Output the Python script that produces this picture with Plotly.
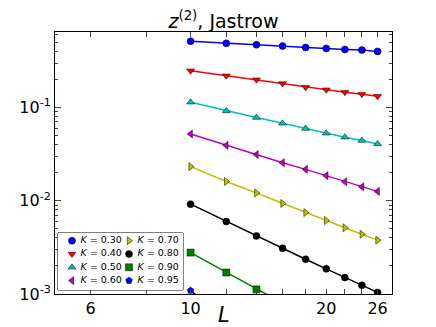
# %% Data
import plotly.graph_objects as go

L = [10, 12, 14, 16, 18, 20, 22, 24, 26]

K_labels = ["0.30", "0.40", "0.50", "0.60", "0.70", "0.80", "0.90", "0.95"]

z_030 = [0.513, 0.488, 0.472, 0.456, 0.441, 0.430, 0.420, 0.413, 0.400]
z_040 = [0.248, 0.219, 0.199, 0.181, 0.165, 0.155, 0.146, 0.139, 0.132]
z_050 = [0.114, 0.092, 0.078, 0.0677, 0.0594, 0.053, 0.048, 0.0442, 0.0407]
z_060 = [0.0521, 0.0393, 0.0313, 0.0256, 0.0217, 0.0186, 0.0160, 0.0141, 0.0126]
z_070 = [0.0232, 0.0161, 0.0121, 0.00936, 0.00748, 0.00614, 0.00513, 0.00438, 0.00378]
z_080 = [0.0092, 0.0060, 0.0042, 0.0031, 0.00236, 0.00186, 0.00150, 0.00124, 0.00104]
z_090 = [0.00278, 0.00170, 0.00112, 0.00078, 0.00057, 0.00044, 0.00034, 0.00027, 0.00022]
z_095 = [0.00109, 0.00054, 0.00029, 0.00017, 0.00011, 0.00007, 0.00005, 0.00003, 0.00002]

series = [z_030, z_040, z_050, z_060, z_070, z_080, z_090, z_095]

x_tickvals = [6, 8, 10, 12, 14, 16, 18, 20, 22, 24, 26]
x_ticktext = ["6", "", "10", "", "", "", "", "20", "", "", "26"]
y_tickvals = [1e-3, 1e-2, 1e-1]
y_ticktext = ["10<sup>-3</sup>", "10<sup>-2</sup>", "10<sup>-1</sup>"]

# %% Styles
colors = ["#0000ff", "#ff0000", "#00bfbf", "#bf00bf", "#bfbf00", "#000000", "#008000", "#0000ff"]
symbols = ["circle", "triangle-down", "triangle-up", "triangle-left",
           "triangle-right", "circle", "square", "pentagon"]

fig = go.Figure()

for s, k, c, sym in zip(series, K_labels, colors, symbols):
    fig.add_trace(
        go.Scatter(
            x=L,
            y=s,
            mode="lines+markers",
            line=dict(color=c, width=1.5),
            marker=dict(symbol=sym, size=7, color=c, line=dict(color="black", width=0.5)),
            name=f"K={k}",
            showlegend=False,
        )
    )

# legend drawn on a small hidden subplot: 2 columns x 4 rows
n_rows = 4
fig.add_trace(
    go.Scatter(
        x=[i // n_rows for i in range(len(K_labels))],
        y=[i % n_rows for i in range(len(K_labels))],
        mode="markers+text",
        marker=dict(symbol=symbols, size=7, color=colors, line=dict(color="black", width=0.5)),
        text=[f" <i>K</i> = {k}" for k in K_labels],
        textposition="middle right",
        textfont=dict(size=9.5, color="black"),
        xaxis="x2",
        yaxis="y2",
        showlegend=False,
        hoverinfo="skip",
        cliponaxis=False,
    )
)

box = dict(x0=0.0089, x1=0.3798, y0=0.0153, y1=0.2328)
fig.add_shape(
    type="rect", xref="paper", yref="paper", **box,
    line=dict(color="black", width=1), fillcolor="white", layer="below",
)

axis_style = dict(
    showline=True, linecolor="black", linewidth=1, mirror="ticks",
    ticks="inside", showgrid=False, zeroline=False, automargin=False,
    tickfont=dict(size=16, color="black"),
)

fig.update_layout(
    width=436,
    height=327,
    margin=dict(l=55, r=44, t=32, b=33),
    paper_bgcolor="white",
    plot_bgcolor="white",
    font=dict(family="DejaVu Sans", color="black"),
    title=dict(
        text="<i>z</i><sup>(2)</sup>, Jastrow",
        x=0.5, xref="paper", xanchor="center",
        y=1 - 21 / 327, yanchor="middle",
        font=dict(size=19, color="black"),
    ),
    xaxis=dict(
        type="log", range=[0.699, 1.447],
        tickvals=x_tickvals, ticktext=x_ticktext, ticklen=5,
        **axis_style,
    ),
    yaxis=dict(
        type="log", range=[-3, -0.19],
        tickvals=y_tickvals, ticktext=y_ticktext, ticklen=6,
        minor=dict(ticks="inside", ticklen=3, dtick="D1", showgrid=False),
        **axis_style,
    ),
    xaxis2=dict(domain=[box["x0"], box["x1"]], range=[-0.2456, 1.947], anchor="y2",
                visible=False, fixedrange=True),
    yaxis2=dict(domain=[box["y0"], box["y1"]], range=[3.707, -0.579], anchor="x2",
                visible=False, fixedrange=True),
    annotations=[
        dict(text="<i>L</i>", x=0.5, y=(294 - 315) / 262, xref="paper", yref="paper",
             xanchor="center", yanchor="middle", showarrow=False,
             font=dict(size=21, color="black")),
    ],
)

# drop the page's default body margin so the figure sits at the window's corner
fig.write_html(
    "out.html",
    config={"displayModeBar": False},
    post_script="document.body.style.margin = '0';",
)
